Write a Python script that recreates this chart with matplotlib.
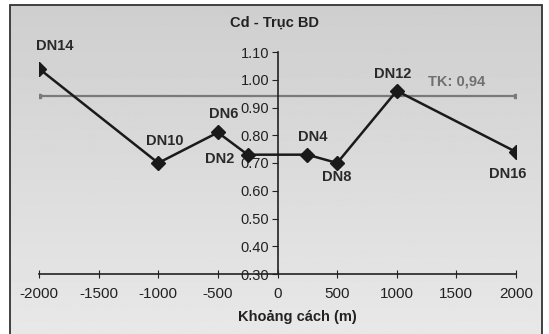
import matplotlib.pyplot as plt
import numpy as np
from matplotlib.patches import Rectangle

# Sampling points along the BD axis
stations = ["DN14", "DN10", "DN6", "DN2", "DN4", "DN8", "DN12", "DN16"]
distance = [-2000, -1000, -500, -250, 250, 500, 1000, 2000]
cd = [1.04, 0.70, 0.81, 0.73, 0.73, 0.70, 0.96, 0.74]
tk_value = 0.94
tk_label = "TK: 0,94"

# label offsets (points) for each station name
label_offsets = [(11, 16), (5, 16), (4, 13), (-20, -3), (4, 13), (0, -10), (-3, 12), (-6, -16)]

plt.rcParams['font.family'] = ['Liberation Sans', 'DejaVu Sans']
plt.rcParams['axes.unicode_minus'] = False

fig = plt.figure(figsize=(5.49, 3.34), dpi=100)

# grey gradient background inside the chart frame
bg = fig.add_axes([0, 0, 1, 1], zorder=-1)
bg.set_axis_off()
grad = np.linspace(0.81, 0.91, 256).reshape(-1, 1)
bg.imshow(grad, cmap="gray", vmin=0, vmax=1, aspect="auto",
          extent=[10 / 549, 542 / 549, 0, 1 - 5 / 334], origin="upper")
bg.set_xlim(0, 1)
bg.set_ylim(0, 1)
bg.add_patch(Rectangle((10 / 549, -0.01), 532 / 549, 1 - 5 / 334 + 0.01,
                       fill=False, edgecolor="#333333", linewidth=1.3))

ax = fig.add_axes([39 / 549, (334 - 274) / 334, (516 - 39) / 549, (274 - 52) / 334])
ax.patch.set_alpha(0)

ax.plot([-2000, 2000], [tk_value, tk_value], color="#7a7a7a", linewidth=1.6,
        marker="s", markersize=3, zorder=2)
ax.plot(distance, cd, color="#1a1a1a", linewidth=1.8, marker="D",
        markersize=7.5, zorder=3)

for name, x, y, off in zip(stations, distance, cd, label_offsets):
    ax.annotate(name, (x, y), xytext=off, textcoords="offset points",
                ha="center", va="center", fontsize=10.5, fontweight="bold",
                color="#2a2a2a", zorder=4)
ax.annotate(tk_label, (1500, tk_value), xytext=(0, 11), textcoords="offset points",
            ha="center", va="center", fontsize=10.5, fontweight="bold", color="#707070")

ax.set_xlim(-2000, 2000)
ax.set_ylim(0.30, 1.10)
ax.set_xticks(np.arange(-2000, 2001, 500))
ax.set_yticks(np.arange(0.30, 1.101, 0.10))
ax.set_yticklabels([f"{v:.2f}" for v in np.arange(0.30, 1.101, 0.10)])

ax.spines['top'].set_visible(False)
ax.spines['right'].set_visible(False)
ax.spines['left'].set_position(('data', 0))
ax.spines['bottom'].set_position(('data', 0.30))
for s in ('left', 'bottom'):
    ax.spines[s].set_color("#222222")
    ax.spines[s].set_linewidth(1.2)
ax.tick_params(axis="x", direction="inout", length=6, labelsize=11, colors="#222222", pad=6)
ax.tick_params(axis="y", direction="out", length=4, labelsize=10.5, colors="#222222", pad=2)

fig.text(275 / 549, 1 - 23 / 334, "Cd - Trục BD", ha="center", va="center",
         fontsize=10.5, fontweight="bold", color="#222222")
fig.text(297 / 549, 1 - 317 / 334, "Khoảng cách (m)", ha="center", va="center",
         fontsize=10.5, fontweight="bold", color="#222222")

fig.savefig("out.png", dpi=100)
